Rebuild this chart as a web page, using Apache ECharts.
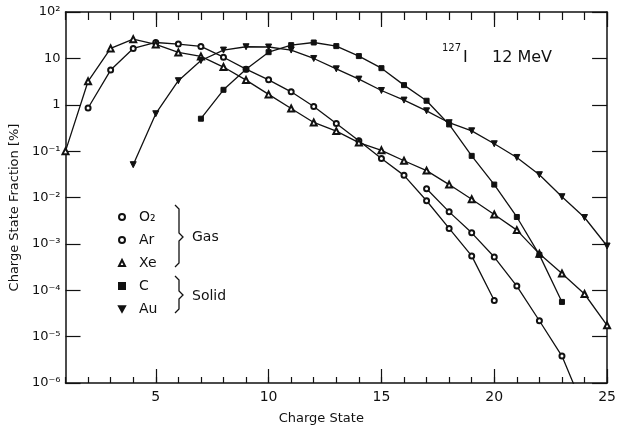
<!DOCTYPE html>
<html><head><meta charset="utf-8">
<script src="https://cdn.jsdelivr.net/npm/echarts@6.0.0/dist/echarts.min.js"></script>
<style>html,body{margin:0;padding:0;background:#fff}#c{width:619px;height:431px}</style>
</head><body><div id="c"></div>
<script>
// ---- data (charge state, fraction in %) ----
const seriesNames = ['O₂', 'Ar', 'Xe', 'C', 'Au'];
const chargeO2 = [2,3,4,5,6,7,8,9,10,11,12,13,14,15,16,17,18,19,20];
const fracO2   = [0.85,5.6,16.4,22,20.3,18.1,10.6,5.85,3.45,1.9,0.92,0.395,0.167,0.069,0.030,0.0085,0.00215,5.5e-4,6.0e-5];
const chargeAr = [17,18,19,20,21,22,23,24];
const fracAr   = [0.0154,0.0049,0.00173,5.2e-4,1.23e-4,2.2e-5,3.8e-6,2.6e-7];
const chargeXe = [1,2,3,4,5,6,7,8,9,10,11,12,13,14,15,16,17,18,19,20,21,22,23,24,25];
const fracXe   = [0.1,3.2,16.4,26,20,13.4,11.0,6.5,3.4,1.67,0.83,0.415,0.27,0.153,0.104,0.062,0.038,0.019,0.0092,0.0043,0.00198,6.1e-4,2.3e-4,8.3e-5,1.75e-5];
const chargeC  = [7,8,9,10,11,12,13,14,15,16,17,18,19,20,21,22,23];
const fracC    = [0.50,2.1,5.8,13.6,19.3,22,18.4,11.2,6.15,2.65,1.22,0.376,0.079,0.019,0.0038,5.8e-4,5.6e-5];
const chargeAu = [4,5,6,7,8,9,10,11,12,13,14,15,16,17,18,19,20,21,22,23,24,25];
const fracAu   = [0.051,0.64,3.3,9.0,15.1,17.8,17.6,15.1,9.95,5.95,3.57,2.03,1.26,0.74,0.41,0.274,0.144,0.073,0.031,0.0104,0.0037,9.0e-4];
const majorX = [5,10,15,20,25];

const FONT = 'DejaVu Sans';
const BLACK = '#111';
function pairs(xs, ys){ return xs.map((x,i)=>[x, ys[i]]); }
const supMap = {'-':'⁻','0':'⁰','1':'¹','2':'²','3':'³','4':'⁴','5':'⁵','6':'⁶','7':'⁷','8':'⁸','9':'⁹'};
function logLabel(v){
  const e = Math.round(Math.log10(v));
  if (e === 0) return '1';
  if (e === 1) return '10';
  return '10' + String(e).split('').map(c=>supMap[c]).join('');
}
const downTri = 'path://M0,0L10,0L5,9Z';

function mk(name, xs, ys, symbol, size){
  return {
    type:'line', name:name, data:pairs(xs, ys), xAxisIndex:0, yAxisIndex:0,
    symbol:symbol, symbolSize:size, showAllSymbol:true, clip:true,
    lineStyle:{color:BLACK, width:1.3},
    itemStyle:{color:BLACK, borderColor:BLACK, borderWidth:1},
    emphasis:{disabled:true}, z:3
  };
}

const chart = echarts.init(document.getElementById('c'), null, {renderer:'canvas'});
const axisLineStyle = {color:BLACK, width:1.5};
const tickStyle = {color:BLACK, width:1.2};
chart.setOption({
  animation:false,
  backgroundColor:'#fff',
  grid:{left:55, right:6, top:12, bottom:48, containLabel:false},
  xAxis:[
    {type:'value', min:1, max:25, interval:1, position:'bottom',
     axisLine:{show:true, onZero:false, lineStyle:axisLineStyle},
     axisTick:{inside:true, length:6, lineStyle:tickStyle},
     axisLabel:{formatter:v => (v % 5 === 0 ? String(v) : ''), color:BLACK, fontFamily:FONT, fontSize:14, margin:7},
     splitLine:{show:false},
     name:'Charge State', nameLocation:'middle', nameGap:29,
     nameTextStyle:{color:BLACK, fontFamily:FONT, fontSize:13, padding:[0,30,0,0]}},
    {type:'value', min:1, max:25, position:'bottom',
     axisLine:{show:false}, axisTick:{inside:true, length:14, customValues:majorX, lineStyle:tickStyle},
     axisLabel:{show:false}, splitLine:{show:false}},
    {type:'value', min:1, max:25, interval:1, position:'top',
     axisLine:{show:true, onZero:false, lineStyle:axisLineStyle},
     axisTick:{inside:true, length:8, lineStyle:tickStyle},
     axisLabel:{show:false}, splitLine:{show:false}},
    {type:'value', min:1, max:25, position:'top',
     axisLine:{show:false}, axisTick:{inside:true, length:15, customValues:majorX, lineStyle:tickStyle},
     axisLabel:{show:false}, splitLine:{show:false}}
  ],
  yAxis:[
    {type:'log', logBase:10, min:1e-6, max:100, position:'left',
     axisLine:{show:true, onZero:false, lineStyle:axisLineStyle},
     axisTick:{inside:true, length:15, lineStyle:tickStyle},
     minorTick:{show:false},
     axisLabel:{formatter:logLabel, color:BLACK, fontFamily:FONT, fontSize:13, margin:5},
     splitLine:{show:false},
     name:'Charge State Fraction [%]', nameLocation:'middle', nameGap:40,
     nameTextStyle:{color:BLACK, fontFamily:FONT, fontSize:13, padding:[0,20,0,0]}},
    {type:'log', logBase:10, min:1e-6, max:100, position:'right',
     axisLine:{show:true, onZero:false, lineStyle:axisLineStyle},
     axisTick:{inside:true, length:15, lineStyle:tickStyle},
     axisLabel:{show:false}, splitLine:{show:false}}
  ],
  legend:{
    orient:'vertical', left:113, top:205, itemWidth:6, itemHeight:6, itemGap:9,
    selectedMode:false, symbolKeepAspect:true,
    textStyle:{fontFamily:FONT, fontSize:14, color:BLACK, lineHeight:14, padding:[0,0,0,9]},
    data:[
      {name:seriesNames[0], icon:'emptyCircle'},
      {name:seriesNames[1], icon:'emptyCircle'},
      {name:seriesNames[2], icon:'emptyTriangle'},
      {name:seriesNames[3], icon:'rect'},
      {name:seriesNames[4], icon:downTri}
    ]
  },
  graphic:[
    {type:'polyline', shape:{points:[[175,205],[179,209],[179,233],[183,237],[179,241],[179,263],[175,267]]},
     style:{stroke:BLACK, fill:null, lineWidth:1.3}},
    {type:'polyline', shape:{points:[[175,276],[179,280],[179,291],[183,295],[179,299],[179,309],[175,313]]},
     style:{stroke:BLACK, fill:null, lineWidth:1.3}},
    {type:'text', left:192, top:230, style:{text:'Gas', font:'14px "DejaVu Sans"', fill:BLACK}},
    {type:'text', left:192, top:289, style:{text:'Solid', font:'14px "DejaVu Sans"', fill:BLACK}},
    {type:'text', left:442, top:43, style:{text:'127', font:'10px "DejaVu Sans"', fill:BLACK}},
    {type:'text', left:463, top:50, style:{text:'I', font:'16px "DejaVu Sans"', fill:BLACK}},
    {type:'text', left:492, top:50, style:{text:'12 MeV', font:'16px "DejaVu Sans"', fill:BLACK}}
  ],
  series:[
    mk(seriesNames[0], chargeO2, fracO2, 'emptyCircle', 5),
    mk(seriesNames[1], chargeAr, fracAr, 'emptyCircle', 5),
    mk(seriesNames[2], chargeXe, fracXe, 'emptyTriangle', 6),
    mk(seriesNames[3], chargeC, fracC, 'rect', 5),
    mk(seriesNames[4], chargeAu, fracAu, downTri, 6)
  ]
});
</script>
</body></html>
